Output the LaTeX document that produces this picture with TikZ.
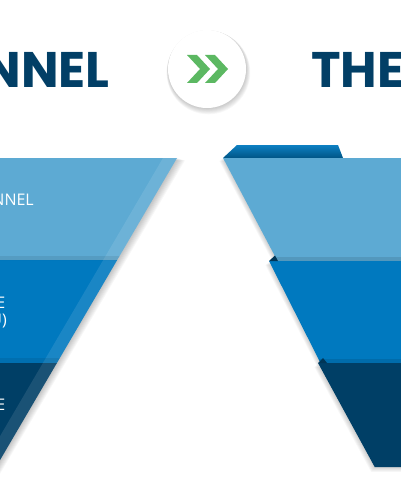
\documentclass[tikz,border=0pt]{standalone}
\usepackage{fontspec}
\setmainfont{Open Sans}
\newfontfamily\headfont{Poppins}
\usepackage{tikz}
\usetikzlibrary{positioning}
\definecolor{lightband}{HTML}{5DAAD3}
\definecolor{midband}{HTML}{0079BF}
\definecolor{darkband}{HTML}{003F66}
\definecolor{navy}{HTML}{023F66}
\definecolor{chevron}{HTML}{5CB862}

\begin{document}
\begin{tikzpicture}[x=1pt, y=-1pt,
  title/.style={text=navy, font=\headfont\bfseries\fontsize{50}{50}\selectfont, inner sep=0pt},
  label/.style={text=white, font=\fontsize{16}{18}\selectfont, inner sep=0pt},
  soft shade/.style={fill=black, opacity=0.03},
  stripe/.style={fill=white, opacity=0.1},
  fold/.style={fill=darkband!85!black}
]
\useasboundingbox (0,0) rectangle (400,484);

% left funnel
\foreach \s in {1,...,8}
  \fill[soft shade] (-20,158+\s*0.3) -- (177+\s,158+\s*0.3) -- (-14+\s,484) -- (-20,484) -- cycle;
\fill[lightband] (-20,158) -- (177,158) -- (117.2,260) -- (-20,260) -- cycle;
\fill[midband] (-20,260) -- (117.2,260) -- (56.9,363) -- (-20,363) -- cycle;
\fill[darkband] (-20,363) -- (56.9,363) -- (-14,484) -- (-20,484) -- cycle;
\fill[stripe] (163,158) -- (177,158) -- (-14,484) -- (-28,484) -- cycle;
\fill[black, opacity=0.08] (-20,256) -- (119.5,256) -- (117.2,260) -- (-20,260) -- cycle;
\fill[black, opacity=0.08] (-20,358) -- (59.8,358) -- (56.9,363) -- (-20,363) -- cycle;

% right funnel
\foreach \s in {1,...,6} {
  \fill[soft shade] (223-\s*0.6,158+\s*0.5) -- (405,158) -- (405,260) -- (277-\s*0.6,260+\s*0.5) -- cycle;
  \fill[soft shade] (269-\s*0.6,262+\s*0.5) -- (405,262) -- (405,363) -- (320.5-\s*0.6,363+\s*0.5) -- cycle;
  \fill[soft shade] (318-\s*0.6,364+\s*0.5) -- (405,364) -- (405,467+\s*0.8) -- (374.7-\s*0.6,467+\s*0.8) -- cycle;
}
\shade[top color=midband!95!white, bottom color=midband!70!black] (223,158) -- (237,145) -- (338,145) -- (343,158) -- cycle;
\fill[lightband] (223,158) -- (405,158) -- (405,261) -- (277.5,261) -- cycle;
\fill[black, opacity=0.1] (275.4,257) -- (405,257) -- (405,261) -- (277.5,261) -- cycle;
\fill[midband] (269,261) -- (405,261) -- (405,363) -- (320.5,363) -- cycle;
\fill[fold] (269,261) -- (275,255.5) -- (278,261) -- cycle;
\fill[black, opacity=0.1] (318.5,359) -- (405,359) -- (405,363) -- (320.5,363) -- cycle;
\fill[darkband] (318,363) -- (405,363) -- (405,467) -- (374.7,467) -- cycle;
\fill[fold] (318,363) -- (323,358) -- (327,363) -- cycle;

% labels
\node[label, anchor=base east] (lbltop) at (34,205) {NNEL};
\node[label, anchor=base east] (lblmid) at (5.5,308) {E};
\node[label, anchor=base east] (lblsub) at (7,325) {U)};
\node[label, anchor=base east] (lbllow) at (5.5,410) {E};

% titles
\node[title, anchor=base east] (funnel) at (110,88) {NNEL};
\node[title, anchor=base west] (the) at (311,88) {THE};

% badge
\foreach \s in {1,...,7}
  \fill[soft shade] (207+\s*0.2,69+\s*0.5) circle (39+\s*0.4);
\node[circle, fill=white, inner sep=0pt, minimum size=78pt] (badge) at (207,69) {};
\foreach \cx in {187,205}
  \fill[chevron] (\cx,55) -- (\cx+10,55) -- (\cx+23,69) -- (\cx+10,83) -- (\cx,83) -- (\cx+13,69) -- cycle;
\end{tikzpicture}
\end{document}
